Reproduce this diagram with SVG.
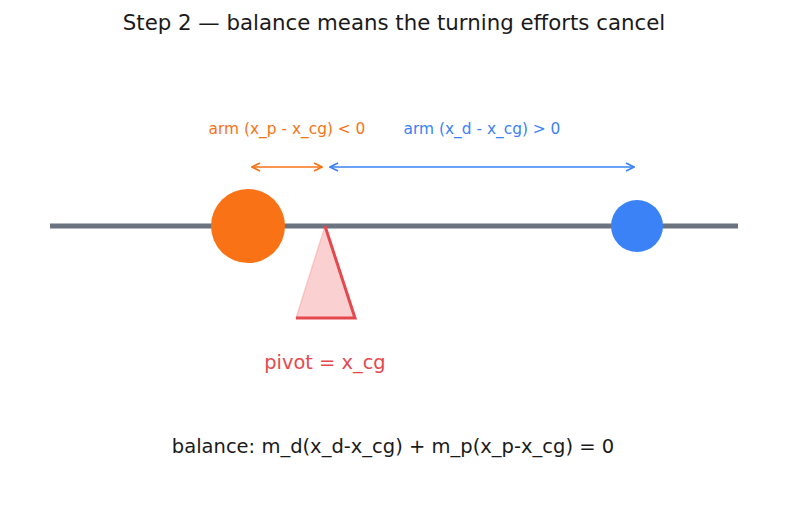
<svg xmlns="http://www.w3.org/2000/svg" width="787" height="508" viewBox="0 0 787 508">
<style>
text{font-family:"DejaVu Sans",sans-serif}
.t{font-size:21.3px;fill:#1a1a1a}
.lbl{font-size:15.4px}
.f{font-size:19.5px;fill:#1a1a1a}
</style>
<defs>
<marker id="ao" viewBox="0 0 10 10" refX="9" refY="5" markerWidth="10" markerHeight="10" markerUnits="userSpaceOnUse" orient="auto-start-reverse"><path d="M1,1 L9,5 L1,9" fill="none" stroke="#f97316" stroke-width="1.6"/></marker>
<marker id="ab" viewBox="0 0 10 10" refX="9" refY="5" markerWidth="10" markerHeight="10" markerUnits="userSpaceOnUse" orient="auto-start-reverse"><path d="M1,1 L9,5 L1,9" fill="none" stroke="#3b82f6" stroke-width="1.6"/></marker>
</defs>
<rect width="787" height="508" fill="#fff"/>
<text class="t" x="394" y="30" text-anchor="middle">Step 2 — balance means the turning efforts cancel</text>
<g id="beam"><line x1="50" y1="226" x2="738" y2="226" stroke="#6b7280" stroke-width="5"/></g>
<g id="pivot">
<polygon points="325,226 296,318 355,318" fill="#ef4444" fill-opacity="0.25" stroke="#ef4444" stroke-opacity="0.2" stroke-width="1.5"/>
<polyline points="325,226 355,318 296,318" fill="none" stroke="#e5484d" stroke-width="3"/>
<text x="325" y="369" text-anchor="middle" font-size="19.4" fill="#e5484d">pivot = x_cg</text>
</g>
<g id="payload"><circle cx="248" cy="226" r="37" fill="#f97316"/></g>
<g id="drone"><circle cx="637" cy="226" r="26" fill="#3b82f6"/></g>
<g id="connectors">
<line x1="252" y1="167" x2="322" y2="167" stroke="#f97316" stroke-width="1.6" marker-start="url(#ao)" marker-end="url(#ao)"/>
<line x1="330" y1="167" x2="634" y2="167" stroke="#3b82f6" stroke-width="1.6" marker-start="url(#ab)" marker-end="url(#ab)"/>
</g>
<text class="lbl" x="287" y="134" text-anchor="middle" fill="#f97316">arm (x_p - x_cg) &lt; 0</text>
<text class="lbl" x="482" y="134" text-anchor="middle" fill="#3b82f6">arm (x_d - x_cg) &gt; 0</text>
<text class="f" x="393" y="453" text-anchor="middle">balance: m_d(x_d-x_cg) + m_p(x_p-x_cg) = 0</text>
</svg>
